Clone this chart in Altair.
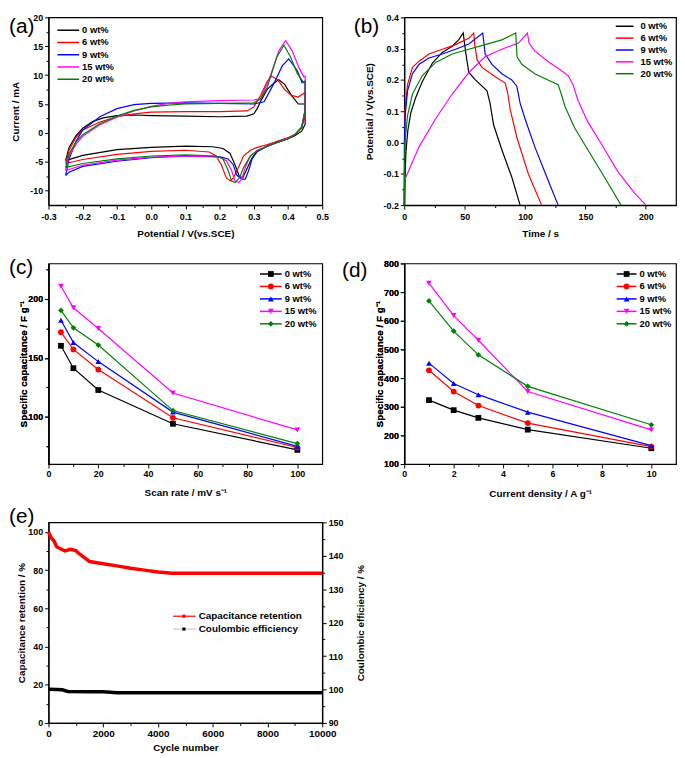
import altair as alt
import pandas as pd

FONT = "Liberation Sans"
SERIES = ["0 wt%", "6 wt%", "9 wt%", "15 wt%", "20 wt%"]
COLORS = ["#000000", "#ff0000", "#0000ff", "#ff00ff", "#008000"]
SHAPES = ["square", "circle", "triangle-up", "triangle-down", "diamond"]

# ---------------- (a) cyclic voltammetry (potential V, current mA) ----------------
cv0_x = [-0.25, -0.24, -0.22, -0.20, -0.17, -0.14, -0.10, -0.05, 0.00, 0.10, 0.20, 0.28, 0.30, 0.31, 0.32, 0.34, 0.36, 0.373, 0.39, 0.41, 0.43, 0.45,
         0.45, 0.44, 0.42, 0.40, 0.37, 0.34, 0.31, 0.295, 0.28, 0.268, 0.258, 0.245, 0.23, 0.21, 0.18, 0.10, 0.00, -0.10, -0.20, -0.25]
cv0_y = [-4.8, -2.5, -0.5, 0.8, 2.0, 2.6, 3.0, 3.1, 3.0, 2.9, 2.8, 2.9, 3.3, 4.2, 5.5, 7.6, 8.7, 9.2, 8.4, 6.5, 5.0, 5.0,
         1.5, 0.3, -0.5, -1.0, -1.6, -2.2, -3.2, -4.3, -6.2, -7.7, -7.6, -5.5, -3.5, -2.7, -2.4, -2.3, -2.5, -2.9, -3.9, -4.8]
cv6_x = [-0.25, -0.24, -0.22, -0.20, -0.15, -0.10, -0.05, 0.00, 0.10, 0.20, 0.28, 0.30, 0.32, 0.34, 0.352, 0.37, 0.39, 0.41, 0.43, 0.45,
         0.45, 0.44, 0.42, 0.40, 0.37, 0.34, 0.31, 0.29, 0.27, 0.255, 0.24, 0.232, 0.22, 0.205, 0.19, 0.17, 0.10, 0.00, -0.10, -0.20, -0.25]
cv6_y = [-5.3, -3.0, -0.8, 0.5, 1.9, 2.8, 3.3, 3.6, 3.7, 3.7, 3.8, 4.5, 6.5, 9.0, 9.8, 9.2, 7.5, 6.5, 6.2, 7.0,
         3.0, 0.8, -0.3, -0.8, -1.4, -2.0, -2.5, -3.0, -4.0, -6.0, -7.8, -8.3, -7.8, -5.5, -4.0, -3.3, -3.0, -3.2, -3.7, -4.6, -5.3]
cv9_x = [-0.25, -0.24, -0.22, -0.20, -0.15, -0.10, -0.05, 0.00, 0.10, 0.20, 0.30, 0.33, 0.36, 0.383, 0.402, 0.427, 0.441, 0.45,
         0.45, 0.44, 0.42, 0.40, 0.37, 0.34, 0.31, 0.295, 0.285, 0.275, 0.265, 0.25, 0.24, 0.225, 0.20, 0.10, 0.00, -0.10, -0.20, -0.24, -0.25]
cv9_y = [-7.4, -4.5, -1.5, 0.5, 2.8, 4.2, 4.9, 5.1, 5.2, 5.1, 5.0, 5.4, 8.7, 11.6, 12.8, 10.8, 8.7, 9.0,
         4.0, 1.0, -0.3, -1.0, -1.6, -2.3, -3.2, -4.5, -6.5, -8.0, -8.0, -7.3, -5.5, -4.5, -4.1, -4.0, -4.3, -4.9, -5.8, -6.8, -7.4]
cv15_x = [-0.25, -0.24, -0.22, -0.20, -0.15, -0.10, -0.05, 0.00, 0.05, 0.10, 0.20, 0.30, 0.32, 0.349, 0.373, 0.393, 0.412, 0.432, 0.446, 0.45,
          0.45, 0.44, 0.42, 0.40, 0.37, 0.34, 0.31, 0.29, 0.275, 0.265, 0.255, 0.245, 0.235, 0.22, 0.20, 0.10, 0.00, -0.10, -0.20, -0.25]
cv15_y = [-6.5, -4.0, -2.0, -0.6, 1.4, 2.7, 3.8, 4.6, 5.1, 5.4, 5.6, 5.7, 5.9, 10.0, 14.2, 16.0, 14.2, 11.3, 9.7, 9.8,
          4.0, 1.0, -0.3, -1.0, -1.6, -2.3, -3.0, -4.0, -6.0, -8.0, -8.6, -8.3, -6.5, -4.8, -4.2, -4.0, -4.2, -4.7, -5.6, -6.5]
cv20_x = [-0.25, -0.24, -0.22, -0.20, -0.15, -0.10, -0.05, 0.00, 0.05, 0.10, 0.20, 0.30, 0.32, 0.339, 0.368, 0.388, 0.407, 0.427, 0.446, 0.45,
          0.45, 0.44, 0.42, 0.40, 0.37, 0.34, 0.31, 0.29, 0.27, 0.258, 0.245, 0.235, 0.225, 0.21, 0.19, 0.10, 0.00, -0.10, -0.20, -0.25]
cv20_y = [-6.0, -3.6, -1.6, -0.3, 1.6, 2.9, 3.9, 4.5, 4.8, 5.0, 5.1, 5.2, 5.9, 7.9, 13.2, 15.2, 13.2, 10.3, 8.7, 8.8,
          4.0, 1.0, -0.3, -1.0, -1.6, -2.3, -3.1, -4.0, -6.0, -7.8, -8.6, -8.3, -6.5, -4.5, -4.0, -3.8, -4.0, -4.5, -5.3, -6.0]

# ---------------- (b) galvanostatic charge/discharge (time s, potential V) ----------------
gcd0_t = [0, 0.5, 1.4, 3, 5.5, 9.6, 15, 23.3, 31.5, 39.7, 45, 48.8, 50.7, 53.4, 58.9, 68.5, 71, 74, 80.8, 89, 95.9]
gcd0_v = [-0.2, -0.12, -0.03, 0.04, 0.096, 0.145, 0.195, 0.254, 0.288, 0.308, 0.328, 0.35, 0.293, 0.224, 0.2, 0.165, 0.126, 0.056, -0.023, -0.11, -0.2]
gcd6_t = [0, 0.2, 0.5, 2.7, 6.8, 12.3, 20.5, 31.5, 42.5, 53.4, 57.5, 58.4, 60.3, 64.4, 75.3, 83.6, 85.8, 87.7, 93.2, 102.7, 113.7]
gcd6_v = [-0.2, 0.0, 0.096, 0.185, 0.24, 0.26, 0.283, 0.298, 0.313, 0.333, 0.35, 0.313, 0.264, 0.24, 0.21, 0.19, 0.155, 0.106, 0.017, -0.1, -0.2]
gcd9_t = [0, 0.2, 0.5, 2.7, 6.8, 12.3, 20.5, 31.5, 42.5, 53.4, 65, 67, 72.6, 80.8, 89, 93.2, 95.9, 100, 108, 119, 127.4]
gcd9_v = [-0.2, 0.0, 0.076, 0.165, 0.22, 0.25, 0.27, 0.283, 0.298, 0.315, 0.35, 0.283, 0.25, 0.22, 0.2, 0.18, 0.126, 0.076, -0.013, -0.12, -0.2]
gcd15_t = [0, 0.3, 12.3, 26, 39.7, 53.4, 67, 80.8, 94.5, 102, 103.3, 108, 119, 130, 135.6, 139.7, 143.8, 152, 163, 176.7, 190.4, 200]
gcd15_v = [-0.2, -0.12, -0.013, 0.076, 0.155, 0.224, 0.274, 0.298, 0.318, 0.35, 0.318, 0.293, 0.259, 0.23, 0.214, 0.185, 0.135, 0.066, -0.003, -0.092, -0.16, -0.2]
gcd20_t = [0, 0.3, 0.5, 2.7, 6.8, 15, 26, 39.7, 53.4, 67, 80.8, 92.3, 93.4, 97.3, 108, 119, 127.4, 130, 133, 141, 152, 165.8, 179.5]
gcd20_v = [-0.2, -0.08, -0.003, 0.086, 0.155, 0.214, 0.256, 0.283, 0.298, 0.313, 0.328, 0.35, 0.274, 0.25, 0.22, 0.2, 0.185, 0.155, 0.116, 0.047, -0.023, -0.111, -0.2]

# ---------------- (c) capacitance vs scan rate ----------------
scan_rate = [5, 10, 20, 50, 100]
cap_c0 = [160.2, 141.2, 122.7, 94.1, 72.0]
cap_c6 = [171.7, 157.1, 140.1, 99.2, 74.0]
cap_c9 = [181.8, 163.0, 146.8, 104.0, 75.0]
cap_c15 = [210.6, 192.4, 174.8, 120.2, 88.9]
cap_c20 = [190.2, 175.4, 160.8, 105.3, 77.3]

# ---------------- (d) capacitance vs current density ----------------
current_density = [1, 2, 3, 5, 10]
cap_d0 = [323, 288, 261, 220, 155]
cap_d6 = [427, 353, 304, 243, 161]
cap_d9 = [452, 381, 342, 281, 164]
cap_d15 = [731, 618, 532, 353, 219]
cap_d20 = [669, 564, 481, 371, 237]

# ---------------- (e) cycling ----------------
cycles_ret = [0, 50, 100, 200, 300, 400, 600, 700, 800, 1000, 1100, 1300, 1500, 2000, 2500, 3000, 3500, 4000, 4500, 5000, 6000, 7000, 8000, 9000, 10000]
retention = [100, 98.3, 96.9, 95.2, 92.2, 91.4, 90.0, 90.5, 90.9, 90.2, 88.8, 86.6, 84.5, 83.3, 82.2, 81.0, 80.0, 79.0, 78.3, 78.3, 78.3, 78.3, 78.3, 78.3, 78.3]
cycles_ce = [0, 300, 500, 700, 1500, 2000, 2500, 4000, 6000, 8000, 10000]
coulombic = [100.1, 100.0, 99.9, 99.4, 99.3, 99.3, 99.0, 99.0, 99.0, 99.0, 99.0]
E_LEGEND = ["Capacitance retention", "Coulombic efficiency"]

# ---------------- tick values ----------------
ticks_a_x = [-0.3, -0.25, -0.2, -0.15, -0.1, -0.05, 0.0, 0.05, 0.1, 0.15, 0.2, 0.25, 0.3, 0.35, 0.4, 0.45, 0.5]
ticks_a_y = [-10, -7.5, -5, -2.5, 0, 2.5, 5, 7.5, 10, 12.5, 15, 17.5, 20]
ticks_b_x = [0, 25, 50, 75, 100, 125, 150, 175, 200]
ticks_b_y = [-0.2, -0.15, -0.1, -0.05, 0.0, 0.05, 0.1, 0.15, 0.2, 0.25, 0.3, 0.35, 0.4]
ticks_c_x = [0, 10, 20, 30, 40, 50, 60, 70, 80, 90, 100]
ticks_c_y = [75, 100, 125, 150, 175, 200, 225]
ticks_d_x = [0, 1, 2, 3, 4, 5, 6, 7, 8, 9, 10]
ticks_d_y = [100, 200, 300, 400, 500, 600, 700, 800]
ticks_e_x = [0, 1000, 2000, 3000, 4000, 5000, 6000, 7000, 8000, 9000, 10000]
ticks_e_yl = [0, 10, 20, 30, 40, 50, 60, 70, 80, 90, 100]
ticks_e_yr = [90, 95, 100, 105, 110, 115, 120, 125, 130, 135, 140, 145, 150]

cscale = alt.Scale(domain=SERIES, range=COLORS)
sscale = alt.Scale(domain=SERIES, range=SHAPES)


def make_axis(values, step, fmt, title, orient, tx=None, ty=None, lsize=9, lpad=2):
    test = f"abs(datum.value / {step} - round(datum.value / {step})) < 0.000001"
    lab = f"({test}) ? ((datum.value < 0 ? '-' : '') + format(abs(datum.value), '{fmt}')) : ''"
    kw = dict(values=values, labelExpr=lab, orient=orient, title=title, grid=False,
              tickSize={"condition": {"test": test, "value": 4}, "value": 2.5},
              labelFontSize=lsize, labelPadding=lpad)
    if orient in ("left", "right"):
        kw.update(titleX=tx, titleAngle=270, titleBaseline="bottom")
    else:
        kw.update(titleY=ty, titleBaseline="middle")
    return alt.Axis(**kw)


def letter(txt, dx, dy):
    return alt.Chart(pd.DataFrame({"t": [txt]})).mark_text(
        align="left", baseline="middle", fontSize=21, font=FONT, color="black"
    ).encode(x=alt.value(dx), y=alt.value(dy), text="t:N")


def legend(y0, dy, x1, x2, xt, markers=False):
    df = pd.DataFrame({"s": SERIES, "i": list(range(len(SERIES)))})
    ysc = alt.Scale(domain=[0, 4], range=[y0, y0 + 4 * dy])
    yenc = alt.Y("i:Q", scale=ysc, axis=None)
    base = alt.Chart(df)
    out = [
        base.mark_rule(strokeWidth=1.5).encode(
            x=alt.value(x1), x2=alt.value(x2), y=yenc,
            color=alt.Color("s:N", scale=cscale, legend=None)),
        base.mark_text(align="left", baseline="middle", fontSize=9.5, fontWeight="bold",
                       font=FONT, color="black").encode(x=alt.value(xt), y=yenc, text="s:N"),
    ]
    if markers:
        out.append(base.mark_point(filled=True, opacity=1, size=34).encode(
            x=alt.value((x1 + x2) / 2), y=yenc,
            color=alt.Color("s:N", scale=cscale, legend=None),
            shape=alt.Shape("s:N", scale=sscale, legend=None)))
    return out


def long_df(xs_list, ys_list):
    rows = []
    for s, xs, ys in zip(SERIES, xs_list, ys_list):
        for i, (x, y) in enumerate(zip(xs, ys)):
            rows.append({"s": s, "o": i, "x": x, "y": y})
    return pd.DataFrame(rows)


TOP_H = 190
H = 203

# ---- panel (a)
df_a = long_df([cv0_x, cv6_x, cv9_x, cv15_x, cv20_x], [cv0_y, cv6_y, cv9_y, cv15_y, cv20_y])
line_a = alt.Chart(df_a).mark_line(strokeWidth=1.2).encode(
    x=alt.X("x:Q", scale=alt.Scale(domain=[-0.3, 0.5], nice=False, zero=False),
            axis=make_axis(ticks_a_x, 0.1, ".1f", "Potential / V(vs.SCE)", "bottom", ty=29, lpad=4)),
    y=alt.Y("y:Q", scale=alt.Scale(domain=[-12.5, 20], nice=False, zero=False),
            axis=make_axis(ticks_a_y, 5, "d", "Current / mA", "left", tx=-28)),
    color=alt.Color("s:N", scale=cscale, legend=None),
    order=alt.Order("o:Q"),
)
pa = alt.layer(line_a, *legend(13, 12.4, 9, 31, 34), letter("(a)", -40, 10)).resolve_scale(
    y="independent").properties(width=277, height=TOP_H)

# ---- panel (b)
df_b = long_df([gcd0_t, gcd6_t, gcd9_t, gcd15_t, gcd20_t], [gcd0_v, gcd6_v, gcd9_v, gcd15_v, gcd20_v])
line_b = alt.Chart(df_b).mark_line(strokeWidth=1.2).encode(
    x=alt.X("x:Q", scale=alt.Scale(domain=[0, 225], nice=False, zero=False),
            axis=make_axis(ticks_b_x, 50, "d", "Time / s", "bottom", ty=29, lpad=4)),
    y=alt.Y("y:Q", scale=alt.Scale(domain=[-0.2, 0.4], nice=False, zero=False),
            axis=make_axis(ticks_b_y, 0.1, ".1f", "Potential / V(vs.SCE)", "left", tx=-30)),
    color=alt.Color("s:N", scale=cscale, legend=None),
    order=alt.Order("o:Q"),
)
pb = alt.layer(line_b, *legend(9, 12.0, 214, 232, 239), letter("(b)", -51, 10)).resolve_scale(
    y="independent").properties(width=275, height=TOP_H)

# ---- panel (c)
df_c = long_df([scan_rate] * 5, [cap_c0, cap_c6, cap_c9, cap_c15, cap_c20])
enc_c = dict(
    x=alt.X("x:Q", scale=alt.Scale(domain=[0, 110], nice=False, zero=False),
            axis=make_axis(ticks_c_x, 20, "d", "Scan rate / mV s\u207b\u00b9", "bottom", ty=29)),
    y=alt.Y("y:Q", scale=alt.Scale(domain=[60, 230], nice=False, zero=False),
            axis=make_axis(ticks_c_y, 50, "d", "Specific capacitance / F g\u207b\u00b9", "left", tx=-20)),
    color=alt.Color("s:N", scale=cscale, legend=None),
)
line_c = alt.Chart(df_c).mark_line(strokeWidth=1.2).encode(order=alt.Order("o:Q"), **enc_c)
pts_c = alt.Chart(df_c).mark_point(filled=True, opacity=1, size=34).encode(
    shape=alt.Shape("s:N", scale=sscale, legend=None), **enc_c)
pc = alt.layer(line_c, pts_c, *legend(10.7, 12.6, 214, 236, 239, markers=True), letter("(c)", -40, 5)).resolve_scale(
    y="independent").properties(width=277, height=H)

# ---- panel (d)
df_d = long_df([current_density] * 5, [cap_d0, cap_d6, cap_d9, cap_d15, cap_d20])
enc_d = dict(
    x=alt.X("x:Q", scale=alt.Scale(domain=[0, 11], nice=False, zero=False),
            axis=make_axis(ticks_d_x, 2, "d", "Current density / A g\u207b\u00b9", "bottom", ty=30)),
    y=alt.Y("y:Q", scale=alt.Scale(domain=[100, 800], nice=False, zero=False),
            axis=make_axis(ticks_d_y, 100, "d", "Specific capacitance / F g\u207b\u00b9", "left", tx=-20)),
    color=alt.Color("s:N", scale=cscale, legend=None),
)
line_d = alt.Chart(df_d).mark_line(strokeWidth=1.2).encode(order=alt.Order("o:Q"), **enc_d)
pts_d = alt.Chart(df_d).mark_point(filled=True, opacity=1, size=34).encode(
    shape=alt.Shape("s:N", scale=sscale, legend=None), **enc_d)
pd_ = alt.layer(line_d, pts_d, *legend(10.7, 12.6, 215, 235, 238, markers=True), letter("(d)", -63, 8)).resolve_scale(
    y="independent").properties(width=275, height=H)

# ---- panel (e)
df_ret = pd.DataFrame({"c": cycles_ret, "v": retention})
df_ce = pd.DataFrame({"c": cycles_ce, "v": coulombic})
xe = alt.X("c:Q", scale=alt.Scale(domain=[0, 10000], nice=False, zero=False),
           axis=make_axis(ticks_e_x, 2000, "d", "Cycle number", "bottom", ty=25, lsize=10))
ret_line = alt.Chart(df_ret).mark_line(strokeWidth=3.5, color="#ff0000").encode(
    x=xe,
    y=alt.Y("v:Q", scale=alt.Scale(domain=[0, 105], nice=False, zero=False),
            axis=make_axis(ticks_e_yl, 20, "d", "Capacitance retention / %", "left", tx=-22)),
)
ce_line = alt.Chart(df_ce).mark_line(strokeWidth=3.5, color="#000000").encode(
    x=xe,
    y=alt.Y("v:Q", scale=alt.Scale(domain=[90, 150], nice=False, zero=False),
            axis=make_axis(ticks_e_yr, 10, "d", "Coulombic efficiency / %", "right", tx=44)),
)
one = pd.DataFrame({"t": [0]})
leg_e = []
for k, (name, lcol, pcol) in enumerate(zip(E_LEGEND, ["#ff0000", "#c8c8c8"], ["#ff0000", "#000000"])):
    yy = 95 + 13 * k
    leg_e.append(alt.Chart(one).mark_rule(strokeWidth=1.2, color=lcol).encode(
        x=alt.value(126), x2=alt.value(149), y=alt.value(yy)))
    leg_e.append(alt.Chart(one).mark_point(shape="square", filled=True, opacity=1, size=10, color=pcol).encode(
        x=alt.value(137), y=alt.value(yy)))
    leg_e.append(alt.Chart(pd.DataFrame({"t": [name]})).mark_text(
        align="left", baseline="middle", fontSize=10, fontWeight="bold", font=FONT, color="black").encode(
        x=alt.value(152), y=alt.value(yy), text="t:N"))
pe = alt.layer(ret_line, ce_line, *leg_e, letter("(e)", -40, -5)).resolve_scale(
    y="independent").properties(width=277, height=H)

chart = alt.concat(pa, pb, pc, pd_, pe, columns=2, spacing={"row": 59, "column": 83}, bounds="flush").properties(
    padding=0, background="white"
).configure(font=FONT).configure_view(
    stroke="black", strokeWidth=1.2
).configure_axis(
    domainColor="black", domainWidth=1.2, tickColor="black", tickWidth=1,
    labelColor="black", labelFont=FONT, labelFontWeight="bold", labelFlush=False,
    labelOverlap=False,
    titleFont=FONT, titleFontSize=10, titleFontWeight="bold", titleColor="black",
)

chart.save("out.html", embed_options={"renderer": "svg", "actions": False})
